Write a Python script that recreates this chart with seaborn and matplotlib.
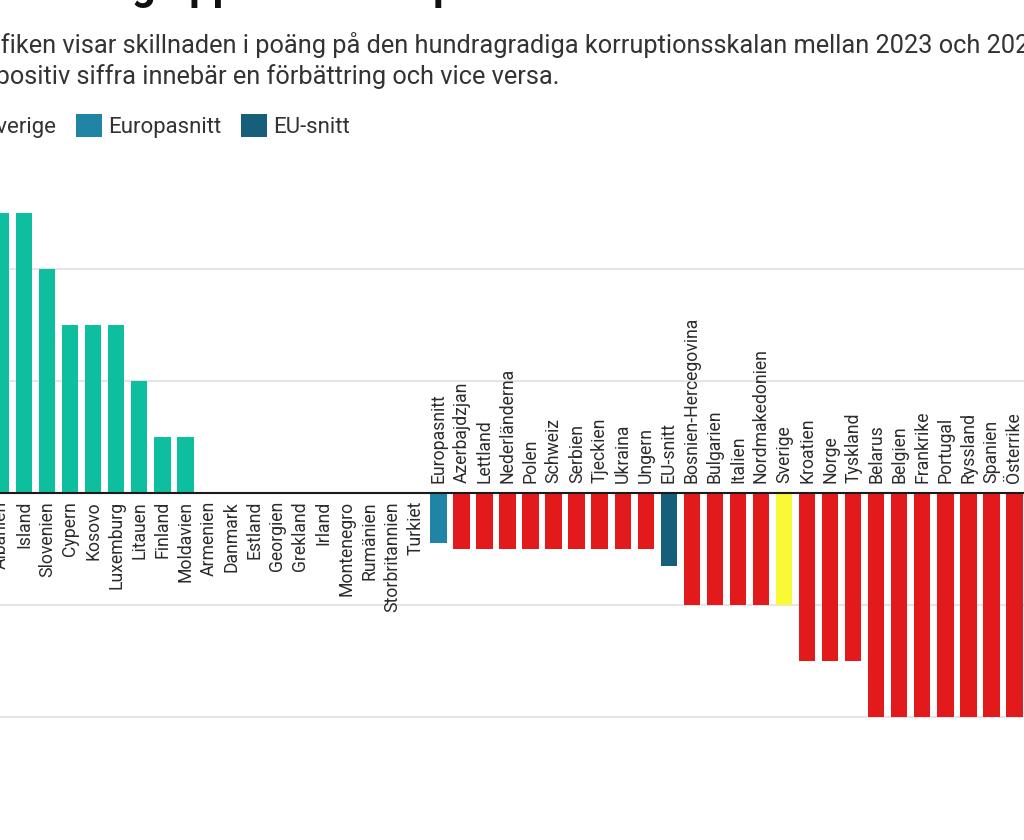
import matplotlib
matplotlib.use("Agg")
import matplotlib.pyplot as plt
import seaborn as sns
import pandas as pd
from matplotlib.patches import Patch

# ---------------- data ----------------
countries = [
    "Albanien", "Island", "Slovenien", "Cypern", "Kosovo", "Luxemburg", "Litauen",
    "Finland", "Moldavien", "Armenien", "Danmark", "Estland", "Georgien", "Grekland",
    "Irland", "Montenegro", "Rumänien", "Storbritannien", "Turkiet", "Europasnitt",
    "Azerbajdzjan", "Lettland", "Nederländerna", "Polen", "Schweiz", "Serbien",
    "Tjeckien", "Ukraina", "Ungern", "EU-snitt", "Bosnien-Hercegovina", "Bulgarien",
    "Italien", "Nordmakedonien", "Sverige", "Kroatien", "Norge", "Tyskland",
    "Belarus", "Belgien", "Frankrike", "Portugal", "Ryssland", "Spanien", "Österrike",
]
values = [
    5, 5, 4, 3, 3, 3, 2,
    1, 1, 0, 0, 0, 0, 0,
    0, 0, 0, 0, 0, -0.9,
    -1, -1, -1, -1, -1, -1,
    -1, -1, -1, -1.3, -2, -2,
    -2, -2, -2, -3, -3, -3,
    -4, -4, -4, -4, -4, -4, -4,
]
legend_labels = ["Förbättring", "Försämring", "Sverige", "Europasnitt", "EU-snitt"]
legend_colors = ["#0dbf9f", "#e31a1c", "#f9f935", "#1f84a6", "#155f7a"]

title_text = "Förändring uppåt och ner på listan över länderna"
subtitle_1 = "Grafiken visar skillnaden i poäng på den hundragradiga korruptionsskalan mellan 2023 och 2024."
subtitle_2 = "En positiv siffra innebär en förbättring och vice versa."


def group_of(name, v):
    if name in ("Sverige", "Europasnitt", "EU-snitt"):
        return name
    if v > 0:
        return "Förbättring"
    if v < 0:
        return "Försämring"
    return "Oförändrat"


groups = [group_of(c, v) for c, v in zip(countries, values)]
palette = dict(zip(legend_labels, legend_colors))
palette["Oförändrat"] = "#bbbbbb"

df = pd.DataFrame({"land": countries, "diff": values, "grupp": groups})

# ---------------- figure ----------------
sns.set_theme(style="white")
plt.rcParams["font.family"] = ["Roboto", "DejaVu Sans"]

W, H = 1024, 840
fig = plt.figure(figsize=(W / 100, H / 100), dpi=100)
fig.patch.set_facecolor("white")

pitch = 23.03      # px per category
unit = 56.0        # px per point
zero_px = 493.0    # zero line from top
ylo, yhi = -4.5, 5.5
ax_top_px = zero_px - yhi * unit
ax_bot_px = zero_px - ylo * unit
ax = fig.add_axes([0, (H - ax_bot_px) / H, 1, (ax_bot_px - ax_top_px) / H])

sns.barplot(
    data=df, x="land", y="diff", hue="grupp", palette=palette, order=countries,
    hue_order=legend_labels + ["Oförändrat"], dodge=False, width=0.72,
    saturation=1, linewidth=0, legend=False, ax=ax, zorder=2,
)

ax.set_xlim(-1 / pitch, (W - 1) / pitch)
ax.set_ylim(ylo, yhi)
ax.set_yticks([-4, -2, 0, 2, 4])
ax.yaxis.grid(True, color="#e5e5e5", linewidth=1.5, zorder=0)
ax.xaxis.grid(False)
ax.set_axisbelow(True)
ax.tick_params(axis="both", which="both", length=0, labelbottom=False, labelleft=False)
ax.set_xlabel("")
ax.set_ylabel("")
for s in ax.spines.values():
    s.set_visible(False)
ax.axhline(0, color="#1a1a1a", linewidth=1.5, zorder=5)

for i, (name, v) in enumerate(zip(countries, values)):
    if v < 0:
        ax.annotate(name, xy=(i, 0), xytext=(0, 10), textcoords="offset pixels",
                    rotation=90, ha="center", va="bottom", fontsize=12.7,
                    color="#2b2b2b", zorder=6)
    else:
        ax.annotate(name, xy=(i, 0), xytext=(0, -8), textcoords="offset pixels",
                    rotation=90, ha="center", va="top", fontsize=12.7,
                    color="#2b2b2b", zorder=6)

# ---------------- texts ----------------
fig.canvas.draw()
renderer = fig.canvas.get_renderer()


def text_width(s, **kw):
    t = fig.text(0, 0, s, **kw)
    w = t.get_window_extent(renderer).width
    t.remove()
    return w


# title (mostly outside the canvas, only descenders visible)
tkw = dict(fontsize=30, fontweight="bold", color="#111111")
g_left = text_width("Förändrin", **tkw)
tx = 132 - g_left
fig.text(tx / W, 1.0 + 1 / H, title_text, va="baseline", ha="left", **tkw)

# subtitle
skw = dict(fontsize=18.3, color="#333333")
sx = -text_width("Gra", **skw) + 1
fig.text(sx / W, 1 - 53 / H, subtitle_1, va="baseline", ha="left", **skw)
sx2 = -text_width("En ", **skw) - 4
fig.text(sx2 / W, 1 - 84 / H, subtitle_2, va="baseline", ha="left", **skw)

# legend
handles = [Patch(facecolor=c, edgecolor="none") for c in legend_colors]
leg = fig.legend(
    handles, legend_labels, loc="center left", bbox_to_anchor=(0, 1 - 126 / H),
    ncol=5, frameon=False, fontsize=16, handlelength=1.17, handleheight=1.17,
    handletextpad=0.27, columnspacing=0.9, borderpad=0, borderaxespad=0,
    labelcolor="#333333",
)
fig.canvas.draw()
eu_txt = [t for t in leg.get_texts() if t.get_text() == "Europasnitt"][0]
x0 = eu_txt.get_window_extent(renderer).x0
dx = 108 - x0
leg.set_bbox_to_anchor((dx / W, 1 - 126 / H), transform=fig.transFigure)

fig.savefig("out.png", dpi=100, facecolor="white")
